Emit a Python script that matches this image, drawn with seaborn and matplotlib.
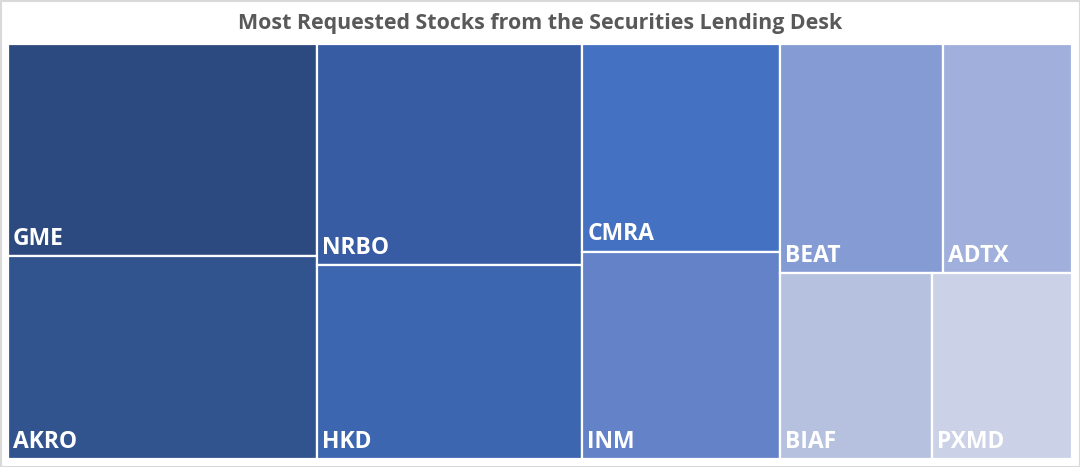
import matplotlib
matplotlib.use("Agg")
import matplotlib.pyplot as plt
from matplotlib.patches import Rectangle
import seaborn as sns

# data (share of requests)
tickers = ["GME", "AKRO", "NRBO", "HKD", "CMRA", "INM", "BEAT", "ADTX", "BIAF", "PXMD"]
shares = [14.9, 14.2, 13.3, 11.7, 9.3, 9.3, 8.5, 6.7, 6.4, 5.9]
colors = ["#2C4A80", "#31548F", "#385CA3", "#3D66B0", "#4471C2",
          "#6482C8", "#859BD4", "#A0AFDB", "#B6C1E0", "#CBD2E7"]
title = "Most Requested Stocks from the Securities Lending Desk"


def worst(row, side):
    s = sum(row)
    return max(max(side * side * r / (s * s), (s * s) / (side * side * r)) for r in row)


def layout_row(row, x, y, w, h):
    s = sum(row)
    rects = []
    if w >= h:  # column on the left
        cw = s / h
        yy = y
        for r in row:
            rects.append((x, yy, cw, r / cw))
            yy += r / cw
        return rects, (x + cw, y, w - cw, h)
    rh = s / w  # row on top
    xx = x
    for r in row:
        rects.append((xx, y, r / rh, rh))
        xx += r / rh
    return rects, (x, y + rh, w, h - rh)


def squarify(values, x, y, w, h):
    total = sum(values)
    areas = [v * w * h / total for v in values]
    out = []
    i = 0
    while i < len(areas):
        side = min(w, h)
        row = [areas[i]]
        i += 1
        while i < len(areas) and worst(row + [areas[i]], side) <= worst(row, side):
            row.append(areas[i])
            i += 1
        rects, (x, y, w, h) = layout_row(row, x, y, w, h)
        out += rects
    return out


sns.set_style("white")
plt.rcParams["font.family"] = ["Open Sans", "DejaVu Sans"]

W, H = 1064, 415
fig = plt.figure(figsize=(10.8, 4.67), dpi=100)
ax = fig.add_axes([8 / 1080, 8 / 467, W / 1080, H / 467])
ax.set_xlim(0, W)
ax.set_ylim(H, 0)
ax.axis("off")

for (x, y, w, h), name, c in zip(squarify(shares, 0, 0, W, H), tickers, colors):
    ax.add_patch(Rectangle((x, y), w, h, facecolor=c, edgecolor="white", linewidth=1.6))
    ax.text(x + 5, y + h - 11, name, color="white", fontsize=16.5, fontweight="bold",
            ha="left", va="baseline")

fig.text(0.5, 1 - 23 / 467, title, ha="center", va="center", fontsize=15.4,
         fontweight="bold", color="#595959")

fig.patches.append(Rectangle((0.5 / 1080, 0.5 / 467), 1 - 1 / 1080, 1 - 1 / 467,
                             transform=fig.transFigure, fill=False,
                             edgecolor="#D9D9D9", linewidth=1.5))

fig.savefig("out.png", dpi=100)
